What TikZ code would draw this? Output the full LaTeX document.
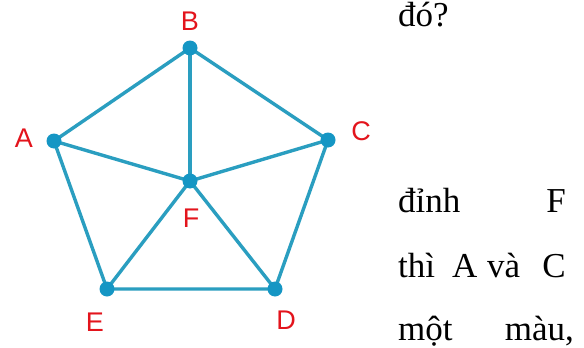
\documentclass[tikz,border=0pt]{standalone}
\usepackage{fontspec}
\setmainfont{Liberation Serif}
\newfontfamily\labfont{Liberation Sans}
\definecolor{edgecol}{HTML}{2A9EC0}
\definecolor{dotcol}{HTML}{1596C4}
\definecolor{labcol}{HTML}{E3141C}
\tikzset{
  vtx/.style={circle, fill=dotcol, inner sep=0pt, minimum size=15pt},
  lab/.style={text=labcol, font=\labfont\fontsize{27}{27}\selectfont, inner sep=0pt},
  edge/.style={draw=edgecol, line width=3.4pt},
  txt/.style={font=\fontsize{35}{35}\selectfont, inner sep=0pt, anchor=base west}
}
\begin{document}
\begin{tikzpicture}[x=1pt,y=-1pt]
\useasboundingbox (0,0) rectangle (584,348);
\fill[white] (0,0) rectangle (584,348);
\coordinate (pA) at (54,141);
\coordinate (pB) at (190,48);
\coordinate (pC) at (328,140);
\coordinate (pD) at (275,289);
\coordinate (pE) at (107,289);
\coordinate (pF) at (190,181);
\draw[edge] (pA) -- (pB) -- (pC) -- (pD) -- (pE) -- (pA);
\draw[edge] (pF) -- (pA);
\draw[edge] (pF) -- (pB);
\draw[edge] (pF) -- (pC);
\draw[edge] (pF) -- (pD);
\draw[edge] (pF) -- (pE);
\node[vtx] (A) at (pA) {};
\node[vtx] (B) at (pB) {};
\node[vtx] (C) at (pC) {};
\node[vtx] (D) at (pD) {};
\node[vtx] (E) at (pE) {};
\node[vtx] (F) at (pF) {};
\node[lab] (lA) at (24,138) {A};
\node[lab] (lB) at (190,21) {B};
\node[lab] (lC) at (361,131) {C};
\node[lab] (lD) at (286,320) {D};
\node[lab] (lE) at (95,322) {E};
\node[lab] (lF) at (191,218) {F};
\node[txt] (t1) at (398,27) {đó?};
\node[txt] (t2) at (398,212) {đỉnh};
\node[txt, anchor=base east] (t3) at (566,212) {F};
\node[txt] (t4) at (398,277) {thì};
\node[txt] (t5) at (452,277) {A};
\node[txt] (t6) at (487,277) {và};
\node[txt, anchor=base east] (t7) at (566,277) {C};
\node[txt] (t8) at (398,340) {một};
\node[txt, anchor=base east] (t9) at (574,340) {màu,};
\end{tikzpicture}
\end{document}
